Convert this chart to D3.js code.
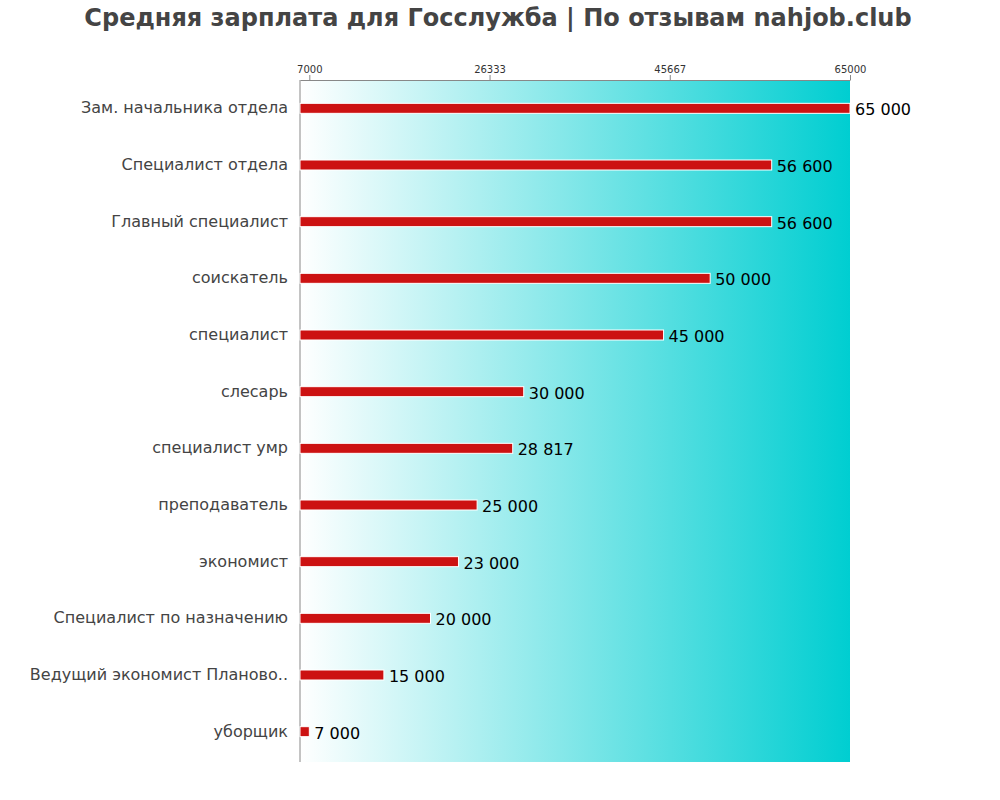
<!DOCTYPE html>
<html><head><meta charset="utf-8">
<script src="https://cdn.jsdelivr.net/npm/d3@7"></script>
<style>body{margin:0;background:#fff}svg{display:block}</style>
</head><body>
<script>
const categories = ["Зам. начальника отдела","Специалист отдела","Главный специалист","соискатель","специалист","слесарь","специалист умр","преподаватель","экономист","Специалист по назначению","Ведущий экономист Планово..","уборщик"];
const values = [65000,56600,56600,50000,45000,30000,28817,25000,23000,20000,15000,7000];
const tickValues = [7000,26333,45667,65000];
const titleText = "Средняя зарплата для Госслужба | По отзывам nahjob.club";

(function(){
const W=1000,H=800, mL=300, mR=850, mT=80, mB=762;
const svg=d3.select("body").append("svg").attr("width",W).attr("height",H);
const defs=svg.append("defs");
const grad=defs.append("linearGradient").attr("id","bg").attr("x1","0").attr("x2","1").attr("y1","0").attr("y2","0");
grad.append("stop").attr("offset","0").attr("stop-color","#ffffff");
grad.append("stop").attr("offset","1").attr("stop-color","#00ced1");

const x=d3.scaleLinear().domain([6000,65000]).range([mL,mR]);
const y=d3.scaleBand().domain(categories).range([mT,760]);

svg.append("rect").attr("x",mL).attr("y",mT).attr("width",mR-mL).attr("height",mB-mT).attr("fill","url(#bg)");

svg.append("text").attr("x",498).attr("y",26).attr("text-anchor","middle")
  .attr("font-family","DejaVu Sans").attr("font-weight","bold").attr("font-size",24).attr("fill","#444").text(titleText);

const xAxis=svg.append("g").attr("transform",`translate(0,${mT})`)
  .call(d3.axisTop(x).tickValues(tickValues).tickFormat(d3.format("d")).tickSize(5).tickPadding(2).tickSizeOuter(0));
xAxis.select(".domain").attr("stroke","#888");
xAxis.selectAll(".tick line").attr("stroke","#888");
xAxis.selectAll("text").attr("font-family","DejaVu Sans").attr("font-size",10).attr("fill","#333");

svg.append("line").attr("x1",mL).attr("x2",mL).attr("y1",mT).attr("y2",mB).attr("stroke","#888");

const bh=10;
svg.selectAll(".bar").data(values).enter().append("rect")
  .attr("x",x(6000)).attr("y",(d,i)=>y(categories[i])+y.bandwidth()/2-bh/2)
  .attr("width",d=>x(d)-x(6000)).attr("height",bh)
  .attr("fill","#cc1212").attr("stroke","#fff").attr("stroke-width",1);

const fmt=d=>d3.format(",")(d).replace(/,/g," ");
svg.selectAll(".val").data(values).enter().append("text")
  .attr("x",d=>x(d)+5).attr("y",(d,i)=>y(categories[i])+y.bandwidth()/2+7)
  .attr("font-family","DejaVu Sans").attr("font-size",16).attr("fill","#000").text(fmt);

svg.selectAll(".cat").data(categories).enter().append("text")
  .attr("x",288).attr("y",d=>y(d)+y.bandwidth()/2+5)
  .attr("text-anchor","end").attr("font-family","DejaVu Sans").attr("font-size",16).attr("fill","#444").text(d=>d);
})();
</script>
</body></html>
